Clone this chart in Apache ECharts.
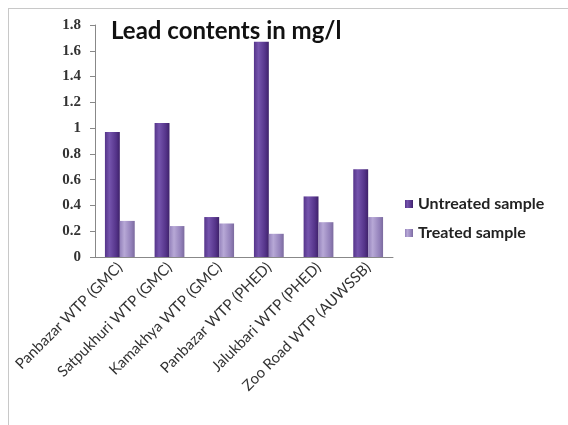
<!DOCTYPE html>
<html>
<head>
<meta charset="utf-8">
<style>
  html, body { margin: 0; padding: 0; background: #ffffff; }
  #frame { position: absolute; left: 8px; top: 8px; width: 580px; height: 440px; border: 1px solid #c8c8c8; box-sizing: border-box; }
  #chart { position: absolute; left: 0; top: 0; width: 568px; height: 425px; }
</style>
<script src="https://cdn.jsdelivr.net/npm/echarts@6/dist/echarts.min.js"></script>
</head>
<body>
<div id="frame"></div>
<div id="chart"></div>
<script>
// Sampling sites
const categories = [
  'Panbazar WTP (GMC)',
  'Satpukhuri WTP (GMC)',
  'Kamakhya WTP (GMC)',
  'Panbazar WTP (PHED)',
  'Jalukbari WTP (PHED)',
  'Zoo Road WTP (AUWSSB)'
];
// Lead content, mg/l
const untreated = [0.97, 1.04, 0.31, 1.67, 0.47, 0.68];
const treated = [0.28, 0.24, 0.26, 0.18, 0.27, 0.31];
const seriesNames = ['Untreated sample', 'Treated sample'];

function tube(dark, light, edge) {
  return new echarts.graphic.LinearGradient(0, 0, 1, 0, [
    { offset: 0, color: dark },
    { offset: 0.3, color: light },
    { offset: 0.75, color: dark },
    { offset: 1, color: edge }
  ]);
}

const chart = echarts.init(document.getElementById('chart'), null, { renderer: 'canvas' });
chart.setOption({
  animation: false,
  title: {
    text: 'Lead contents in mg/l',
    left: 106,
    top: 14,
    textStyle: { fontFamily: 'Lato', fontWeight: 'bold', fontSize: 24, color: '#111' }
  },
  grid: { left: 95, right: 175, top: 25, bottom: 168 },
  legend: {
    orient: 'vertical',
    left: 400,
    top: 191,
    itemWidth: 8,
    itemHeight: 8,
    itemGap: 13,
    icon: 'rect',
    data: seriesNames,
    textStyle: { fontFamily: 'Lato', fontWeight: 'bold', fontSize: 16, color: '#222' }
  },
  xAxis: {
    type: 'category',
    data: categories,
    axisLine: { lineStyle: { color: '#888' } },
    axisTick: { length: 5, lineStyle: { color: '#888' } },
    axisLabel: {
      rotate: 45,
      interval: 0,
      margin: 8,
      fontFamily: 'Lato',
      fontSize: 15,
      color: '#333'
    }
  },
  yAxis: {
    type: 'value',
    min: 0,
    max: 1.8,
    interval: 0.2,
    splitLine: { show: false },
    axisLine: { show: true, lineStyle: { color: '#888' } },
    axisTick: { show: true, length: 5, inside: false, lineStyle: { color: '#888' } },
    axisLabel: {
      margin: 14,
      fontFamily: 'Liberation Serif',
      fontWeight: 'bold',
      fontSize: 15,
      color: '#333',
      formatter: v => String(Math.round(v * 10) / 10)
    }
  },
  series: [
    {
      name: seriesNames[0],
      type: 'bar',
      data: untreated,
      barGap: '0%',
      barCategoryGap: '40%',
      itemStyle: { color: tube('#55348a', '#7554ad', '#3e2169') }
    },
    {
      name: seriesNames[1],
      type: 'bar',
      data: treated,
      itemStyle: { color: tube('#9482bb', '#b7a8d6', '#7b6a9e') }
    }
  ]
});
</script>
</body>
</html>
